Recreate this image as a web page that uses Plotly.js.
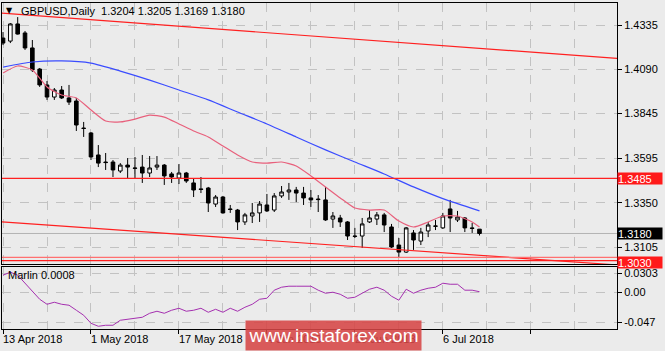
<!DOCTYPE html>
<html><head><meta charset="utf-8">
<script src="https://cdn.plot.ly/plotly-3.0.1.min.js"></script>
<style>html,body{margin:0;padding:0;background:#ebebeb;}#chart{width:665px;height:351px;}</style>
</head><body><div id="chart"></div>
<script>
const symbol = 'GBPUSD';
const timeframe = 'Daily';

const openP = [1.4263,1.4246,1.4341,1.4291,1.4208,1.4091,1.4003,1.3936,1.3975,1.3931,
1.3914,1.3764,1.3737,1.3615,1.3576,1.3576,1.3526,1.3559,1.3543,1.3548,
1.3515,1.3548,1.3559,1.3510,1.3487,1.3515,1.3460,1.3427,1.3432,1.3343,
1.3382,1.3316,1.3310,1.3244,1.3277,1.3294,1.3338,1.3310,1.3388,1.3410,
1.3421,1.3404,1.3377,1.3371,1.3366,1.3260,1.3266,1.3244,1.3166,1.3166,
1.3244,1.3260,1.3283,1.3216,1.3116,1.3077,1.3183,1.3138,1.3194,1.3222,
1.3211,1.3316,1.3255,1.3266,1.3211,1.3204];
const highP = [1.4296,1.4346,1.4379,1.4302,1.4252,1.4097,1.4025,1.3986,1.3997,1.4003,
1.3931,1.3798,1.3742,1.3670,1.3626,1.3587,1.3570,1.3598,1.3604,1.3615,
1.3609,1.3609,1.3565,1.3521,1.3565,1.3521,1.3487,1.3493,1.3438,1.3393,
1.3388,1.3338,1.3316,1.3294,1.3349,1.3360,1.3399,1.3404,1.3443,1.3460,
1.3438,1.3438,1.3421,1.3393,1.3438,1.3299,1.3283,1.3249,1.3211,1.3266,
1.3310,1.3299,1.3294,1.3233,1.3155,1.3216,1.3199,1.3211,1.3244,1.3255,
1.3294,1.3366,1.3305,1.3271,1.3238,1.3205];
const lowP = [1.4224,1.4235,1.4282,1.4197,1.4075,1.3992,1.3920,1.3920,1.3925,1.3892,
1.3748,1.3715,1.3587,1.3548,1.3532,1.3493,1.3515,1.3487,1.3487,1.3460,
1.3493,1.3532,1.3449,1.3460,1.3454,1.3460,1.3382,1.3404,1.3299,1.3327,
1.3290,1.3294,1.3199,1.3227,1.3238,1.3244,1.3299,1.3299,1.3377,1.3366,
1.3354,1.3338,1.3327,1.3299,1.3250,1.3211,1.3216,1.3144,1.3155,1.3100,
1.3238,1.3227,1.3188,1.3100,1.3050,1.3072,1.3089,1.3116,1.3160,1.3199,
1.3205,1.3188,1.3244,1.3188,1.3183,1.3169];
const closeP = [1.4235,1.4341,1.4285,1.4208,1.4086,1.4003,1.3936,1.3975,1.3931,1.3908,
1.3781,1.3762,1.3604,1.3570,1.3573,1.3532,1.3559,1.3548,1.3541,1.3515,
1.3543,1.3559,1.3499,1.3493,1.3515,1.3471,1.3421,1.3424,1.3349,1.3382,
1.3294,1.3313,1.3244,1.3283,1.3294,1.3343,1.3305,1.3388,1.3410,1.3421,
1.3404,1.3377,1.3366,1.3368,1.3255,1.3277,1.3244,1.3166,1.3164,1.3233,
1.3266,1.3283,1.3227,1.3105,1.3077,1.3211,1.3144,1.3188,1.3227,1.3220,
1.3277,1.3266,1.3271,1.3211,1.3208,1.3180];

const slowMaIdx = [0,4,8,12,16,20,24,28,32,36,40,44,48,52,56,60,65];
const slowMaVal = [1.4102,1.4130,1.4136,1.4124,1.4080,1.4030,1.3975,1.3920,1.3853,1.3787,1.3715,1.3643,1.3576,1.3510,1.3438,1.3373,1.3305];

const fastMaIdx = [0,2,4,6,8,10,12,14,16,18,20,22,24,26,28,30,32,34,36,38,40,42,44,46,48,50,52,54,56,58,60,62,64,65];
const fastMaVal = [1.4069,1.4108,1.4086,1.3992,1.3947,1.3931,1.3864,1.3803,1.3798,1.3814,1.3836,1.3825,1.3787,1.3748,1.3715,1.3665,1.3615,1.3576,1.3570,1.3576,1.3554,1.3499,1.3438,1.3377,1.3321,1.3310,1.3310,1.3249,1.3216,1.3244,1.3277,1.3277,1.3244,1.3216];

const marlin = [0.0269,0.0316,0.0269,0.0142,0.0000,-0.0111,-0.0190,-0.0158,-0.0190,-0.0205,
-0.0284,-0.0363,-0.0490,-0.0537,-0.0521,-0.0521,-0.0442,-0.0427,-0.0411,-0.0395,
-0.0332,-0.0300,-0.0332,-0.0284,-0.0253,-0.0300,-0.0284,-0.0253,-0.0316,-0.0269,
-0.0316,-0.0253,-0.0300,-0.0237,-0.0190,-0.0111,-0.0095,0.0032,0.0079,0.0095,
0.0095,0.0095,0.0095,0.0032,-0.0016,0.0000,-0.0032,-0.0095,-0.0079,-0.0016,
0.0047,0.0079,0.0032,-0.0063,-0.0126,0.0047,-0.0016,0.0032,0.0063,0.0079,
0.0142,0.0126,0.0126,0.0032,0.0032,0.0008];
const marlinLast = '0.0008';

const chanUpIdx = [-1, 84];
const chanUpVal = [1.4403, 1.4149];
const chanLoIdx = [-1, 84];
const chanLoVal = [1.3247, 1.3005];

const resistance = 1.3485;
const support1 = 1.3048;
const support2 = 1.3030;

const priceTicks = [1.4335, 1.4090, 1.3845, 1.3595, 1.3350, 1.3105];
const priceTickText = ['1.4335','1.4090','1.3845','1.3595','1.3350','1.3105'];
const indTicks = [0.0303, 0, -0.047];
const indTickText = ['0.0303','0.00','-0.047'];

const dateTickIdx = [0, 12, 24, 36, 48, 60];
const dateTickText = ['13 Apr 2018','1 May 2018','17 May 2018','4 Jun 2018','20 Jun 2018','6 Jul 2018'];

const FONT = 'Liberation Sans, Arial, sans-serif';
const xIdx = openP.map((_, i) => i);
const n = closeP.length;

const traces = [
  {type:'scatter', mode:'lines', x:chanUpIdx, y:chanUpVal, line:{color:'#ff2020', width:1.2}, xaxis:'x', yaxis:'y', hoverinfo:'skip'},
  {type:'scatter', mode:'lines', x:chanLoIdx, y:chanLoVal, line:{color:'#ff2020', width:1.2}, xaxis:'x', yaxis:'y', hoverinfo:'skip'},
  {type:'scatter', mode:'lines', x:slowMaIdx, y:slowMaVal, line:{color:'#3a4cff', width:1.2, shape:'spline', smoothing:0.6}, xaxis:'x', yaxis:'y'},
  {type:'scatter', mode:'lines', x:fastMaIdx, y:fastMaVal, line:{color:'#e8607c', width:1.2, shape:'spline', smoothing:0.6}, xaxis:'x', yaxis:'y'},
  {type:'candlestick', x:xIdx, open:openP, high:highP, low:lowP, close:closeP, xaxis:'x', yaxis:'y',
   increasing:{line:{color:'#000000', width:1}, fillcolor:'#ffffff'},
   decreasing:{line:{color:'#000000', width:1}, fillcolor:'#000000'},
   whiskerwidth:0},
  {type:'scatter', mode:'lines', x:xIdx, y:marlin, line:{color:'#a530b0', width:1}, xaxis:'x2', yaxis:'y2'}
];

const gridCol = '#c2c2c2';
const layout = {
  width:665, height:351,
  margin:{l:2, r:48, t:3, b:22},
  paper_bgcolor:'#ebebeb', plot_bgcolor:'#ebebeb',
  showlegend:false, hovermode:false,
  font:{family:FONT, size:11, color:'#000'},
  xaxis:{domain:[0,1], range:[-0.14, 83.76], anchor:'y', showticklabels:false, ticks:'',
    tickmode:'linear', tick0:0, dtick:6, showgrid:true, gridcolor:gridCol, griddash:'dash', gridwidth:1,
    zeroline:false, showline:true, linecolor:'#000', linewidth:1, mirror:true, rangeslider:{visible:false}},
  xaxis2:{domain:[0,1], range:[-0.14, 83.76], anchor:'y2', showticklabels:false,
    tickmode:'linear', tick0:0, dtick:12, ticks:'outside', ticklen:4, tickcolor:'#000',
    showgrid:true, gridcolor:gridCol, griddash:'dash',
    minor:{tick0:0, dtick:6, showgrid:true, gridcolor:gridCol, griddash:'dash', ticks:''},
    zeroline:false, showline:true, linecolor:'#000', linewidth:1, mirror:true},
  yaxis:{domain:[0.1994, 1], range:[1.3011, 1.4457], side:'right', anchor:'x',
    tickmode:'array', tickvals:priceTicks, ticktext:priceTickText,
    ticks:'outside', ticklen:4, tickcolor:'#000', tickfont:{family:FONT, size:11, color:'#000'},
    showgrid:true, gridcolor:gridCol, griddash:'dash', zeroline:false,
    showline:true, linecolor:'#000', linewidth:1, mirror:true},
  yaxis2:{domain:[0, 0.1902], range:[-0.058, 0.0398], side:'right', anchor:'x2',
    tickmode:'array', tickvals:indTicks, ticktext:indTickText,
    ticks:'outside', ticklen:4, tickcolor:'#000', tickfont:{family:FONT, size:11, color:'#000'},
    showgrid:true, gridcolor:gridCol, griddash:'dash', zeroline:false,
    showline:true, linecolor:'#000', linewidth:1, mirror:true},
  shapes:[
    {type:'line', xref:'paper', x0:0, x1:1, yref:'y', y0:resistance, y1:resistance, line:{color:'#ff2020', width:1.2}},
    {type:'line', xref:'paper', x0:0, x1:1, yref:'y', y0:closeP[n-1], y1:closeP[n-1], line:{color:'#b4b4b4', width:1}, layer:'below'},
    {type:'line', xref:'paper', x0:0, x1:1, yref:'y', y0:support1, y1:support1, line:{color:'#ff7070', width:1.2}},
    {type:'line', xref:'paper', x0:0, x1:1, yref:'y', y0:support2, y1:support2, line:{color:'#ff2020', width:1.2}}
  ],
  annotations:[]
};

// header
layout.annotations.push({xref:'paper', yref:'paper', x:0.0125, y:0.9785, xanchor:'center', yanchor:'middle',
  text:'▼', showarrow:false, font:{family:'DejaVu Sans', size:8, color:'#000'}});
layout.annotations.push({xref:'paper', yref:'paper', x:0.027, y:0.9755, xanchor:'left', yanchor:'middle',
  text: symbol + ',' + timeframe + '  ' + openP[n-1].toFixed(4) + ' ' + highP[n-1].toFixed(4) + ' ' + lowP[n-1].toFixed(4) + ' ' + closeP[n-1].toFixed(4),
  showarrow:false, font:{family:FONT, size:11, color:'#000'}});
// indicator label
layout.annotations.push({xref:'paper', yref:'paper', x:0.006, y:0.165, xanchor:'left', yanchor:'middle',
  text:'Marlin ' + marlinLast, showarrow:false, font:{family:FONT, size:11, color:'#000'}});
// date labels
dateTickIdx.forEach((ix, k) => {
  layout.annotations.push({xref:'x2', yref:'paper', x:ix, y:0, xanchor:'left', yanchor:'top', yshift:-2, xshift:-2,
    text:dateTickText[k], showarrow:false, font:{family:FONT, size:11, color:'#000'}});
});
// price boxes
const boxes = [
  {v:resistance, bg:'#ff1a1a', txt:resistance.toFixed(4), sh:0},
  {v:closeP[n-1], bg:'#000000', txt:closeP[n-1].toFixed(4), sh:0},
  {v:support2, bg:'#ff1a1a', txt:support2.toFixed(4), sh:-2}
];
boxes.forEach(b => {
  layout.annotations.push({xref:'paper', yref:'y', x:1, y:b.v, xanchor:'left', yanchor:'middle', xshift:0, yshift:b.sh,
    text:b.txt, showarrow:false, bgcolor:b.bg, width:44, height:11, borderpad:0, align:'left',
    font:{family:FONT, size:11, color:'#ffffff'}});
});
// watermark
layout.annotations.push({xref:'paper', yref:'paper', x:0.539, y:-0.02, xanchor:'center', yanchor:'middle',
  text:'www.instaforex.com', showarrow:false, bgcolor:'rgba(214,70,70,0.88)', width:175, height:29, borderpad:0,
  font:{family:FONT, size:19, color:'#ffffff'}});

Plotly.newPlot('chart', traces, layout, {staticPlot:true, displayModeBar:false});
</script>
</body></html>
